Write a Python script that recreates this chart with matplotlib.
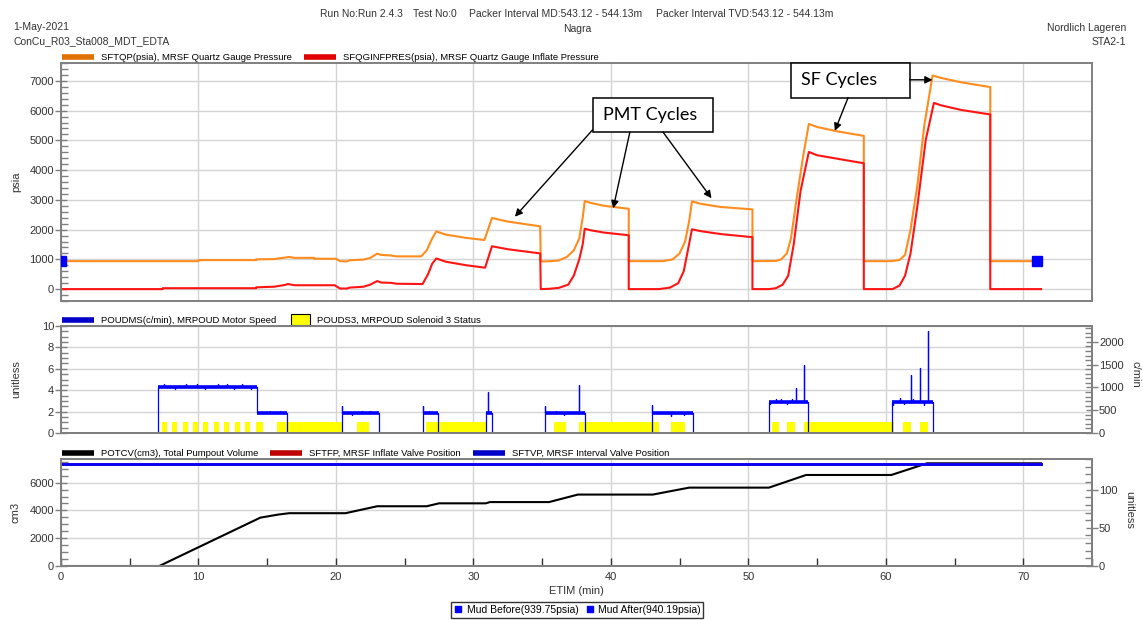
import matplotlib.pyplot as plt
from matplotlib.lines import Line2D
from matplotlib.patches import Patch, Rectangle
from matplotlib.legend_handler import HandlerPatch
from matplotlib.ticker import MultipleLocator

plt.rcParams['font.family'] = ['Liberation Sans', 'DejaVu Sans']

# quartz gauge pressure, psia
quartz_t = [0, 10.0, 10.0, 14.2, 14.2, 15.5, 16.3, 16.6, 17.0, 18.4, 18.4, 20.0, 20.3, 20.8,
            21.0, 22.0, 22.5, 23.0, 23.3, 24.0, 24.4, 26.2, 26.6, 27.0, 27.3, 28.0, 29.5,
            30.8, 31.35, 32.5, 34.86, 34.9, 35.5, 36.2, 36.8, 37.3, 37.7, 37.95, 38.1, 38.5,
            39.5, 41.3, 41.3, 43.8, 44.5, 45.0, 45.4, 45.7, 45.9, 46.5, 48.0, 50.3, 50.3,
            52.0, 52.4, 52.8, 53.1, 53.5, 54.0, 54.4, 55.0, 56.5, 58.4, 58.4, 60.4, 61.0,
            61.4, 61.8, 62.3, 62.8, 63.4, 64.0, 65.5, 67.6, 67.6, 71.3]
quartz_p = [940, 940, 975, 975, 1000, 1010, 1060, 1080, 1050, 1050, 1020, 1020, 940, 930,
            970, 990, 1050, 1190, 1150, 1130, 1100, 1100, 1300, 1700, 1940, 1830, 1720,
            1650, 2390, 2270, 2110, 930, 935, 960, 1080, 1300, 1700, 2400, 2960, 2900,
            2800, 2700, 940, 940, 1000, 1200, 1600, 2300, 2950, 2870, 2760, 2680, 940,
            945, 1000, 1200, 1700, 3000, 4500, 5550, 5450, 5300, 5150, 940, 940, 980,
            1150, 2000, 3500, 5500, 7180, 7100, 6950, 6790, 940, 940]

# quartz gauge inflate pressure, psia
inflate_t = [0, 7.4, 7.4, 14.2, 14.2, 15.5, 16.3, 16.5, 17.0, 19.9, 20.3, 20.8, 21.0, 22.0,
             22.5, 23.0, 23.3, 24.0, 24.4, 26.3, 26.7, 27.0, 27.3, 28.0, 29.5, 30.85, 31.35,
             32.5, 34.86, 34.9, 35.5, 36.2, 36.9, 37.3, 37.7, 37.95, 38.1, 38.5, 39.5, 41.3,
             41.3, 43.5, 44.3, 44.9, 45.3, 45.6, 45.9, 46.5, 48.0, 50.3, 50.3, 51.5, 52.0,
             52.5, 52.9, 53.3, 53.8, 54.4, 55.0, 56.5, 58.4, 58.4, 60.5, 61.0, 61.4, 61.8,
             62.3, 62.9, 63.5, 64.0, 65.5, 67.6, 67.6, 71.3]
inflate_p = [0, 0, 30, 30, 60, 80, 140, 170, 130, 130, 20, 20, 50, 80,
             150, 270, 220, 210, 180, 170, 500, 850, 1030, 920, 800, 720, 1440,
             1340, 1200, 0, 10, 40, 150, 450, 1000, 1500, 2030, 1980, 1900, 1810,
             0, 0, 50, 200, 600, 1300, 2010, 1950, 1850, 1745, 0, 0, 30,
             150, 450, 1500, 3300, 4610, 4500, 4380, 4230, 0, 0, 120, 450, 1200,
             2800, 5000, 6260, 6180, 6020, 5870, 0, 0]

mud_t = [0.0, 71.0]
mud_p = [939.75, 940.19]

# pump-out motor speed, c/min: (start, end, level) blocks and single-sample spikes
motor_blocks = [(7.03, 14.28, 1020), (14.28, 16.46, 440), (20.44, 23.1, 440),
                (26.35, 27.4, 440), (30.9, 31.35, 440), (35.2, 38.1, 440),
                (43.0, 46.0, 440), (51.5, 54.35, 690), (60.45, 63.4, 690)]
motor_spikes = [(7.5, 1080), (8.3, 960), (9.1, 1075), (9.9, 1080), (10.5, 960), (11.4, 1075),
                (12.1, 1080), (12.6, 960), (13.2, 1075), (13.8, 960), (15.2, 490), (15.9, 480),
                (20.46, 600), (21.2, 400), (21.9, 490), (22.5, 490), (26.37, 600), (26.8, 490),
                (31.05, 895), (35.22, 600), (36.0, 490), (36.6, 400), (37.65, 1055),
                (43.02, 610), (44.4, 380), (45.35, 400), (51.55, 640), (52.0, 740), (52.4, 740),
                (52.8, 630), (53.2, 740), (53.45, 980), (54.07, 1490), (60.5, 620), (61.0, 760),
                (61.3, 630), (61.8, 1270), (62.0, 740), (62.5, 1420), (62.8, 620), (63.1, 2230)]

# solenoid 3 open intervals, min
sol_start = [7.32, 8.09, 8.85, 9.58, 10.35, 11.10, 11.88, 12.65, 13.41, 14.16, 15.69, 21.52,
             26.58, 35.85, 37.67, 44.4, 51.7, 52.82, 54.07, 61.24, 62.48]
sol_end = [7.68, 8.46, 9.21, 9.94, 10.71, 11.47, 12.24, 13.02, 13.77, 14.72, 20.53, 22.44,
           30.95, 36.7, 43.5, 45.4, 52.24, 53.4, 60.57, 61.82, 63.1]

# total pumpout volume, cm3
pump_t = [0, 7.15, 14.5, 15.8, 16.6, 20.7, 23.0, 26.6, 27.5, 30.9, 31.2, 35.5, 37.6,
          43.05, 45.7, 51.5, 54.2, 60.4, 63.0, 71.3]
pump_v = [0, 0, 3480, 3700, 3800, 3800, 4300, 4300, 4510, 4510, 4600, 4600, 5140,
          5140, 5640, 5640, 6550, 6550, 7390, 7390]

# valve positions, unitless
valve_t = [0, 71.3]
inflate_valve = [134, 134]
interval_valve = [134, 134]

ORANGE = '#ff8c1e'
RED = '#ff1414'
BLUE = '#0000ff'
GRID = '#d4d4d4'
SPINE = '#808080'
TXT = '#333333'


def motor_trace(blocks, spikes):
    t, v = [0.0], [0.0]
    for i, (s, e, lvl) in enumerate(blocks):
        if t[-1] != s or v[-1] == 0:
            t += [s, s]
            v += [0, lvl]
        else:
            t.append(s)
            v.append(lvl)
        for st, sv in spikes:
            if s <= st < e:
                t += [st, st, st]
                v += [lvl, sv, lvl]
        t.append(e)
        v.append(lvl)
        nxt = blocks[i + 1][0] if i + 1 < len(blocks) else None
        if nxt != e:
            t.append(e)
            v.append(0)
    t.append(75)
    v.append(0)
    return t, v


def style(ax, ymajor, yminor, right=False):
    for sp in ax.spines.values():
        sp.set_color(SPINE)
        sp.set_linewidth(1.4)
    ax.yaxis.set_major_locator(MultipleLocator(ymajor))
    ax.yaxis.set_minor_locator(MultipleLocator(yminor))
    side = dict(left=not right, right=right, labelleft=not right, labelright=right)
    ax.tick_params(axis='y', which='major', direction='inout', length=8, width=1,
                   color=SPINE, labelsize=8, labelcolor=TXT, pad=1, **side)
    ax.tick_params(axis='y', which='minor', direction='in', length=5, width=1,
                   color=SPINE, **side)


def narrow_box(legend, orig_handle, xdescent, ydescent, width, height, fontsize):
    return Rectangle((-xdescent + width * 0.42, -ydescent - 1.5), width * 0.58, height + 3)


fig = plt.figure(figsize=(11.43, 6.2), dpi=100)
W = 1031 / 1143
ax1 = fig.add_axes([61 / 1143, 319 / 620, W, 238 / 620])
ax2 = fig.add_axes([61 / 1143, 187 / 620, W, 107 / 620])
ax3 = fig.add_axes([61 / 1143, 54 / 620, W, 107 / 620])

for ax in (ax1, ax2, ax3):
    ax.set_xlim(0, 75)
    ax.set_xticks(range(0, 71, 10))
    ax.grid(True, color=GRID, lw=1)
    ax.set_axisbelow(True)

leg_kw = dict(loc='lower left', bbox_to_anchor=(0, 1.0), frameon=False, fontsize=6.8,
              handlelength=3.4, handletextpad=0.7, borderpad=0.1, borderaxespad=0)

# pressures
ax1.plot(quartz_t, quartz_p, color=ORANGE, lw=1.5)
ax1.plot(inflate_t, inflate_p, color=RED, lw=1.5)
ax1.plot(mud_t, mud_p, 's', color=BLUE, ms=7.5, zorder=5)
ax1.set_ylim(-400, 7600)
style(ax1, 1000, 200)
ax1.tick_params(axis='x', length=0, labelbottom=False)
ax1.set_ylabel('psia', fontsize=8, color=TXT)
ax1.yaxis.set_label_coords(-0.039, 0.5)
ax1.legend(handles=[Line2D([], [], color='#e07000', lw=4, solid_capstyle='butt',
                           label='SFTQP(psia), MRSF Quartz Gauge Pressure'),
                    Line2D([], [], color='#e00000', lw=4, solid_capstyle='butt',
                           label='SFQGINFPRES(psia), MRSF Quartz Gauge Inflate Pressure')],
           ncol=2, columnspacing=1.3, **leg_kw)

# call-out boxes
pmt_box = (38.67, 5274, 8.73, 1165)
sf_box = (53.07, 6439, 8.68, 1158)
for (bx, by, bw, bh) in (pmt_box, sf_box):
    ax1.add_patch(Rectangle((bx, by), bw, bh, facecolor='white', edgecolor='black',
                            lw=1.1, zorder=6, clip_on=False))
ax1.text(39.45, 5840, 'PMT Cycles', fontsize=13, family='Lato', va='center', zorder=7)
ax1.text(53.8, 7030, 'SF Cycles', fontsize=13, family='Lato', va='center', zorder=7)
arrow = dict(arrowstyle='-|>', color='black', lw=1, mutation_scale=11, shrinkA=0, shrinkB=0)
for tail, head in [((38.67, 5352), (33.02, 2434)), ((41.38, 5274), (40.17, 2716)),
                   ((43.8, 5274), (47.32, 3053)), ((61.75, 7035), (63.4, 7035)),
                   ((57.26, 6439), (56.29, 5318))]:
    ax1.annotate('', xy=head, xytext=tail, arrowprops=arrow, zorder=7, annotation_clip=False)

# motor speed and solenoid status
ax2.bar(sol_start, [1] * len(sol_start), width=[e - s for s, e in zip(sol_start, sol_end)],
        align='edge', color='#ffff00', edgecolor='none')
ax2.set_ylim(0, 10)
style(ax2, 2, 0.5)
ax2.tick_params(axis='x', length=0, labelbottom=False)
ax2.set_ylabel('unitless', fontsize=8, color=TXT)
ax2.yaxis.set_label_coords(-0.039, 0.5)
ax2r = ax2.twinx()
mt, mv = motor_trace(motor_blocks, motor_spikes)
ax2r.plot(mt, mv, color=BLUE, lw=0.9)
ax2r.hlines([b[2] for b in motor_blocks], [b[0] for b in motor_blocks],
            [b[1] for b in motor_blocks], color=BLUE, lw=2.6)
ax2r.set_ylim(0, 2350)
ax2r.set_xlim(0, 75)
style(ax2r, 500, 100, right=True)
ax2r.set_ylabel('c/min', fontsize=8, color=TXT, rotation=270, va='bottom')
ax2r.yaxis.set_label_coords(1.037, 0.55)
ax2.legend(handles=[Line2D([], [], color='#0000c8', lw=4, solid_capstyle='butt',
                           label='POUDMS(c/min), MRPOUD Motor Speed'),
                    Patch(facecolor='#ffff00', edgecolor='black', lw=0.8,
                          label='POUDS3, MRPOUD Solenoid 3 Status')],
           handler_map={Patch: HandlerPatch(patch_func=narrow_box)},
           ncol=2, columnspacing=0.2, **leg_kw)

# pumpout volume and valves
ax3.plot(pump_t, pump_v, color='black', lw=1.5)
ax3.set_ylim(0, 7700)
style(ax3, 2000, 500)
ax3.xaxis.set_minor_locator(MultipleLocator(5))
ax3.tick_params(axis='x', which='both', direction='in', length=6, width=1, color='#333333',
                labelsize=8, labelcolor=TXT, pad=4)
ax3.set_ylabel('cm3', fontsize=8, color=TXT)
ax3.yaxis.set_label_coords(-0.039, 0.5)
ax3.set_xlabel('ETIM (min)', fontsize=8, color=TXT, labelpad=3)
ax3r = ax3.twinx()
ax3r.plot(valve_t, inflate_valve, color=RED, lw=2)
ax3r.plot(valve_t, interval_valve, color=BLUE, lw=2)
ax3r.set_ylim(0, 140)
ax3r.set_xlim(0, 75)
style(ax3r, 50, 10, right=True)
ax3r.set_ylabel('unitless', fontsize=8, color=TXT, rotation=270, va='bottom')
ax3r.yaxis.set_label_coords(1.031, 0.52)
ax3.legend(handles=[Line2D([], [], color='black', lw=4, solid_capstyle='butt',
                           label='POTCV(cm3), Total Pumpout Volume'),
                    Line2D([], [], color='#c00000', lw=4, solid_capstyle='butt',
                           label='SFTFP, MRSF Inflate Valve Position'),
                    Line2D([], [], color='#0000c8', lw=4, solid_capstyle='butt',
                           label='SFTVP, MRSF Interval Valve Position')],
           ncol=3, columnspacing=1.3, **leg_kw)

# mud readings box under the x axis
mud_leg = fig.legend(handles=[Line2D([], [], ls='none', marker='s', ms=4, color=BLUE,
                                     label='Mud Before(939.75psia)'),
                              Line2D([], [], ls='none', marker='s', ms=4, color=BLUE,
                                     label='Mud After(940.19psia)')],
                     loc='center', bbox_to_anchor=(577 / 1143, 1 - 610 / 620), ncol=2,
                     fontsize=7.5, frameon=True, fancybox=False, handlelength=1,
                     handletextpad=0.3, columnspacing=0.6, borderpad=0.25)
mud_leg.get_frame().set_edgecolor('black')
mud_leg.get_frame().set_linewidth(1)

# header
hdr = dict(fontsize=7.5, color=TXT, va='center')
fig.text(13 / 1143, 1 - 27 / 620, '1-May-2021', **hdr)
fig.text(13 / 1143, 1 - 41 / 620, 'ConCu_R03_Sta008_MDT_EDTA', **hdr)
for x, s in [(320, 'Run No:Run 2.4.3'), (413, 'Test No:0'),
             (469, 'Packer Interval MD:543.12 - 544.13m'),
             (656, 'Packer Interval TVD:543.12 - 544.13m')]:
    fig.text(x / 1143, 1 - 14 / 620, s, **hdr)
fig.text(577 / 1143, 1 - 29 / 620, 'Nagra', ha='center', **hdr)
fig.text(1126 / 1143, 1 - 28 / 620, 'Nordlich Lageren', ha='right', **hdr)
fig.text(1126 / 1143, 1 - 42 / 620, 'STA2-1', ha='right', **hdr)

fig.savefig('out.png', dpi=100)
